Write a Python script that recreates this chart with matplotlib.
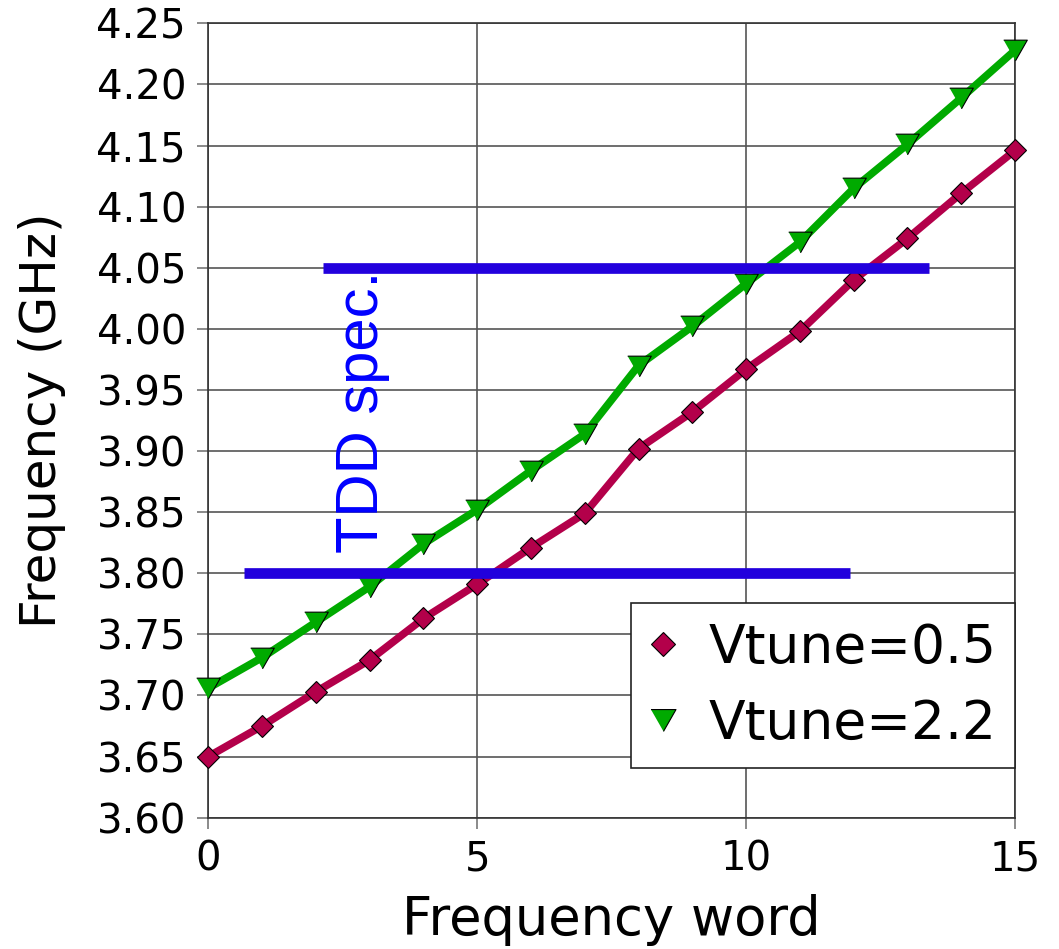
import matplotlib
matplotlib.use("Agg")
import matplotlib.pyplot as plt
from matplotlib.lines import Line2D

# Frequency word settings
words = list(range(16))

# Measured oscillation frequency (GHz) for two tuning voltages
freq_vtune_05 = [3.650, 3.675, 3.703, 3.729, 3.763, 3.791, 3.821, 3.849,
                 3.902, 3.932, 3.967, 3.998, 4.040, 4.074, 4.111, 4.146]
freq_vtune_22 = [3.706, 3.731, 3.760, 3.789, 3.824, 3.852, 3.884, 3.914,
                 3.970, 4.002, 4.037, 4.071, 4.115, 4.151, 4.189, 4.228]

series_labels = ["Vtune=0.5", "Vtune=2.2"]

# TDD band limits (GHz) and the word ranges over which they are drawn
spec_upper = 4.05
spec_upper_span = (2.14, 13.40)
spec_lower = 3.80
spec_lower_span = (0.66, 11.93)
spec_label = "TDD spec."

x_ticks = [0, 5, 10, 15]
y_ticks = [3.60, 3.65, 3.70, 3.75, 3.80, 3.85, 3.90, 3.95,
           4.00, 4.05, 4.10, 4.15, 4.20, 4.25]

red = "#b3004a"
green = "#00aa00"
spec_blue = "#2200dd"
text_blue = "#0000ff"

plt.rcParams["font.family"] = ["DejaVu Sans"]

fig = plt.figure(figsize=(10.59, 9.49), dpi=100)
ax = fig.add_axes([0.1967, 0.1384, 0.9585 - 0.1967, 0.9754 - 0.1384])

ax.set_xlim(0, 15)
ax.set_ylim(3.60, 4.25)
ax.set_xticks(x_ticks)
ax.set_yticks(y_ticks)
ax.set_yticklabels([f"{v:.2f}" for v in y_ticks])

ax.grid(True, color="#555555", linewidth=1.2, zorder=0)
ax.set_axisbelow(True)
for side in ax.spines.values():
    side.set_color("#333333")
    side.set_linewidth(1.2)

ax.tick_params(axis="both", direction="out", length=8, width=1.2,
               color="#777777", labelsize=29, pad=8)

# Data curves
ax.plot(words, freq_vtune_05, color=red, linewidth=5.5, marker="D",
        markersize=11.5, markerfacecolor=red, markeredgecolor="black",
        markeredgewidth=0.8, zorder=3, clip_on=False)
tri = [(-1, 0.875), (1, 0.875), (0, -0.875)]
ax.plot(words, freq_vtune_22, color=green, linewidth=5.5, marker=tri,
        markersize=17, markerfacecolor=green, markeredgecolor="black",
        markeredgewidth=0.8, zorder=3, clip_on=False)

# TDD specification band edges
ax.plot(spec_upper_span, [spec_upper, spec_upper], color=spec_blue,
        linewidth=7.7, solid_capstyle="butt", zorder=4)
ax.plot(spec_lower_span, [spec_lower, spec_lower], color=spec_blue,
        linewidth=7.7, solid_capstyle="butt", zorder=4)
ax.text(2.86, 3.932, spec_label, rotation=90, ha="center", va="center",
        color=text_blue, fontsize=43, family=["Liberation Sans"], zorder=5)

ax.set_xlabel("Frequency word", fontsize=38, labelpad=10)
ax.set_ylabel("Frequency (GHz)", fontsize=36, labelpad=22)

handles = [
    Line2D([], [], linestyle="none", marker="D", markersize=12.5,
           markerfacecolor=red, markeredgecolor="black", markeredgewidth=0.8),
    Line2D([], [], linestyle="none", marker=tri, markersize=18,
           markerfacecolor=green, markeredgecolor="black", markeredgewidth=0.8),
]
leg = ax.legend(handles, series_labels, loc="lower right",
                bbox_to_anchor=(1.0, 0.0622), borderaxespad=0,
                fontsize=38.5, frameon=True, fancybox=False, framealpha=1,
                edgecolor="#222222", borderpad=0.35, handlelength=0.5,
                handletextpad=0.6, labelspacing=0.45)
leg.get_frame().set_linewidth(1.2)
leg.set_zorder(6)

fig.savefig("out.png", dpi=100, facecolor="white")
